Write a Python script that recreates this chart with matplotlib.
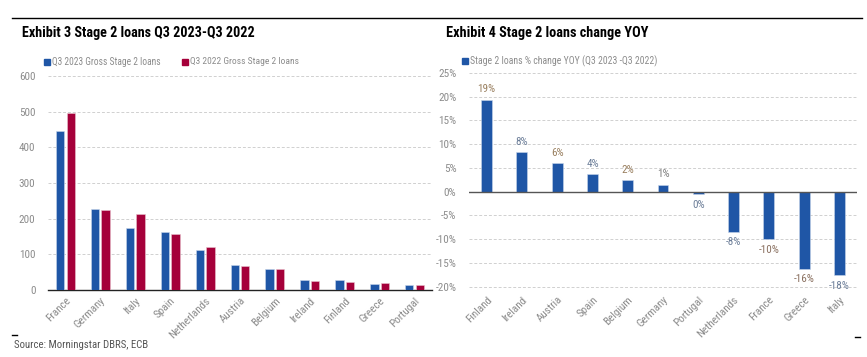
import matplotlib
matplotlib.use("Agg")
import matplotlib.pyplot as plt
from matplotlib.lines import Line2D
from matplotlib.patches import Rectangle
from matplotlib import font_manager
import numpy as np

# Left chart data
countries_left = ["France", "Germany", "Italy", "Spain", "Netherlands", "Austria",
                  "Belgium", "Ireland", "Finland", "Greece", "Portugal"]
q3_2023 = [445, 227, 175, 163, 111, 71, 60, 28, 28, 16, 15]
q3_2022 = [495, 223, 212, 157, 121, 67, 58, 26, 23, 19, 14]
left_yticks = [0, 100, 200, 300, 400, 500, 600]

# Right chart data
countries_right = ["Finland", "Ireland", "Austria", "Spain", "Belgium", "Germany",
                   "Portugal", "Netherlands", "France", "Greece", "Italy"]
yoy_change = [19.4, 8.3, 6.0, 3.7, 2.4, 1.4, -0.5, -8.4, -10.0, -16.2, -17.6]
yoy_labels = ["19%", "8%", "6%", "4%", "2%", "1%", "0%", "-8%", "-10%", "-16%", "-18%"]
right_yticks = [-20, -15, -10, -5, 0, 5, 10, 15, 20, 25]

# pick the narrowest available font
available = {f.name for f in font_manager.fontManager.ttflist}
family = "Liberation Sans"
for cand in ["Roboto Condensed", "Liberation Sans Narrow", "Open Sans Condensed",
             "Arial Narrow", "DejaVu Sans Condensed", "Liberation Sans"]:
    if cand in available:
        family = cand
        break
plt.rcParams['font.family'] = [family, 'DejaVu Sans']

W, H = 867, 357
BLUE = "#1f56a6"
RED = "#a5003a"
GRAY = "#8c8c8c"
GRID = "#d0d0d0"
TICK_FS = 8.0

fig = plt.figure(figsize=(W / 100, H / 100), dpi=100)
renderer = fig.canvas.get_renderer()

def fit_text(xpx, ypx, s, target_w, fs0, **kw):
    t = fig.text(xpx / W, 1 - ypx / H, s, fontsize=fs0, va="center", ha="left", **kw)
    w = t.get_window_extent(renderer=renderer).width
    t.set_fontsize(fs0 * target_w / w)
    return t

def ax_rect(x0, y0, x1, y1):
    return [x0 / W, 1 - y1 / H, (x1 - x0) / W, (y1 - y0) / H]

# ---------- Left axes ----------
axL = fig.add_axes(ax_rect(48, 76, 432, 290))
x = np.arange(len(countries_left))
bw = 0.24
axL.bar(x - bw / 2 - 0.03, q3_2023, bw, color=BLUE, edgecolor="#c9d6ea", linewidth=0.4, zorder=3)
axL.bar(x + bw / 2 + 0.03, q3_2022, bw, color=RED, edgecolor="#e8c2cd", linewidth=0.4, zorder=3)
axL.set_xlim(-0.5, len(countries_left) - 0.5)
axL.set_ylim(0, 600)
axL.set_yticks(left_yticks)
axL.set_yticklabels([str(v) for v in left_yticks])
axL.set_xticks(x)
axL.set_xticklabels(countries_left, rotation=45, ha="right", rotation_mode="anchor")
for s in ["top", "right", "left"]:
    axL.spines[s].set_visible(False)
axL.spines["bottom"].set_color("#222222")
axL.spines["bottom"].set_linewidth(1.0)
axL.tick_params(axis="both", length=0, labelsize=TICK_FS, labelcolor=GRAY, pad=9)
axL.tick_params(axis="x", pad=4)
axL.yaxis.grid(True, color=GRID, linestyle=(0, (3, 2)), linewidth=0.7, zorder=0)
axL.set_axisbelow(True)

# ---------- Right axes ----------
axR = fig.add_axes(ax_rect(469, 73, 857, 289))
xr = np.arange(len(countries_right))
axR.bar(xr, yoy_change, 0.31, color=BLUE, edgecolor="#c9d6ea", linewidth=0.4, zorder=3)
axR.set_xlim(-0.5, len(countries_right) - 0.5)
axR.set_ylim(-20.5, 25)
axR.set_yticks(right_yticks)
axR.set_yticklabels([f"{v}%" for v in right_yticks])
axR.set_xticks(xr)
axR.set_xticklabels(countries_right, rotation=45, ha="right", rotation_mode="anchor")
for s in ["top", "right", "left", "bottom"]:
    axR.spines[s].set_visible(False)
axR.axhline(0, color="#555555", linewidth=1.0, zorder=4)
axR.tick_params(axis="both", length=0, labelsize=TICK_FS, labelcolor=GRAY, pad=9)
axR.tick_params(axis="x", pad=4)
axR.yaxis.grid(True, color=GRID, linestyle=(0, (3, 2)), linewidth=0.7, zorder=0)
axR.set_axisbelow(True)
label_colors = ["#9a8060", "#6d7f99", "#9a8060", "#6d7f99", "#9a8060", "#808080",
                "#6d7f99", "#6d7f99", "#8a7060", "#8a7060", "#6d7f99"]
for xi, v, lab, c in zip(xr, yoy_change, yoy_labels, label_colors):
    if v >= 0:
        axR.annotate(lab, (xi, v), xytext=(0, 4), textcoords="offset points",
                     ha="center", va="bottom", fontsize=TICK_FS, color=c)
    else:
        axR.annotate(lab, (xi, v), xytext=(0, -4), textcoords="offset points",
                     ha="center", va="top", fontsize=TICK_FS, color=c)

# ---------- Titles, legends, decorations ----------
fig.add_artist(Line2D([12 / W, 862 / W], [1 - 18 / H, 1 - 18 / H], color="black", linewidth=1.0))
fit_text(22, 33, "Exhibit 3 Stage 2 loans Q3 2023-Q3 2022", 233, 10, fontweight="bold", color="black")
fit_text(446, 33, "Exhibit 4 Stage 2 loans change YOY", 202, 10, fontweight="bold", color="black")

def legend_item(xpx, ypx, color, text, target_w):
    fig.add_artist(Rectangle((xpx / W, 1 - (ypx + 3) / H), 6 / W, 6 / H,
                             color=color, transform=fig.transFigure))
    fit_text(xpx + 8, ypx, text, target_w, 7, color=GRAY)

legend_item(44, 62, BLUE, "Q3 2023 Gross Stage 2 loans", 110)
legend_item(182, 62, RED, "Q3 2022 Gross Stage 2 loans", 109)
legend_item(462, 61, BLUE, "Stage 2 loans % change YOY (Q3 2023 -Q3 2022)", 189)

fig.add_artist(Line2D([12 / W, 17 / W], [1 - 335 / H, 1 - 335 / H], color="black", linewidth=1.0))
fig.add_artist(Line2D([855 / W, 860 / W], [1 - 337 / H, 1 - 337 / H], color="black", linewidth=1.0))
fit_text(14, 345, "Source: Morningstar DBRS, ECB", 134, 7, color="#555555")

fig.savefig("out.png", dpi=100)
